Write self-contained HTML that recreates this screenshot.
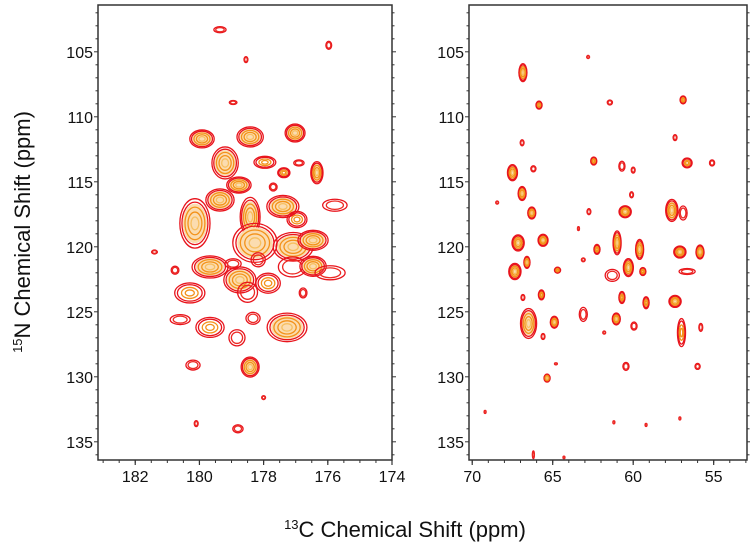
<!DOCTYPE html>
<html><head><meta charset="utf-8">
<style>
html,body{margin:0;padding:0;background:#fff;}
svg{display:block;font-family:"Liberation Sans",Arial,sans-serif;}
</style></head>
<body>
<svg id="chart" width="750" height="549" viewBox="0 0 750 549" xmlns="http://www.w3.org/2000/svg">
<g id="left-panel"></g>
<g id="right-panel"></g>
<text transform="translate(30,232) rotate(-90)" text-anchor="middle" font-size="22" fill="#111"><tspan font-size="13" dy="-8">15</tspan><tspan dy="8">N Chemical Shift  (ppm)</tspan></text>
<text x="405" y="537" text-anchor="middle" font-size="22" fill="#111"><tspan font-size="13" dy="-8">13</tspan><tspan dy="8">C  Chemical Shift (ppm)</tspan></text>
</svg>
<script>
// ---- Left panel peaks (13C ppm, 15N ppm, widths in ppm, strength level) ----
const leftC  = [179.92,178.42,177.02,179.2,177.96,176.9,177.37,176.34,177.7,178.77,175.78,179.36,177.4,180.14,178.42,178.27,177.08,176.46,176.96,179.67,178.95,178.17,177.1,176.46,178.74,177.86,178.5,180.3,180.6,179.67,178.83,177.27,178.33,176.77,175.93,181.4,180.76,180.2,178.42,178.0,180.1,178.8,179.36,178.55,175.97,178.95];
const leftN  = [111.7,111.55,111.25,113.55,113.5,113.55,114.3,114.3,115.4,115.25,116.8,116.4,116.9,118.2,117.7,119.7,120.0,119.5,117.9,121.55,121.3,121.0,121.55,121.5,122.55,122.8,123.5,123.55,125.6,126.2,127.0,126.2,125.5,123.55,122.0,120.4,121.8,129.1,129.25,131.6,133.6,134.0,103.3,105.6,104.5,108.9];
const leftWC = [.38,.41,.31,.41,.34,.16,.19,.19,.12,.38,.38,.44,.5,.47,.31,.69,.62,.47,.31,.56,.25,.22,.44,.41,.5,.38,.31,.47,.31,.44,.25,.62,.22,.12,.47,.09,.12,.22,.28,.06,.06,.16,.19,.06,.09,.12];
const leftWN = [.69,.77,.69,1.23,.46,.23,.38,.85,.31,.62,.46,.85,.85,1.9,1.5,1.5,1.1,.77,.62,.85,.38,.54,.77,.77,1.0,.77,.77,.77,.38,.77,.62,1.1,.46,.38,.54,.15,.31,.38,.77,.15,.23,.31,.23,.23,.31,.15];
const leftS  = [3,3,3,3,2,1,2,3,1,3,1,3,3,3,3,3,3,3,2,3,1,1,1,3,3,2,1,2,1,2,1,3,1,1,1,1,1,1,3,1,1,1,1,1,1,1];
// ---- Right panel peaks ----
const rightC  = [66.85,62.8,65.85,61.45,56.9,66.9,57.4,62.45,60.7,60.0,56.65,55.1,67.5,66.2,66.9,68.45,66.3,62.75,60.5,60.1,57.6,56.9,67.15,65.6,63.4,62.25,61.0,60.3,59.6,59.4,61.3,57.1,55.85,56.65,64.7,63.1,67.35,66.6,66.85,65.7,60.7,59.2,57.4,66.5,64.9,63.1,61.05,59.95,61.8,65.6,57.0,55.8,64.8,60.45,56.0,65.35,69.2,61.2,57.1,59.2,66.2,64.3];
const rightN  = [106.6,105.4,109.1,108.9,108.7,112.0,111.6,113.4,113.8,114.1,113.55,113.55,114.3,114.0,115.9,116.6,117.4,117.3,117.3,116.0,117.2,117.4,119.7,119.5,118.6,120.2,119.7,121.6,120.2,121.9,122.2,120.4,120.4,121.9,121.8,121.0,121.9,121.2,123.9,123.7,123.9,124.3,124.2,125.9,125.8,125.2,125.55,126.1,126.6,126.9,126.6,126.2,129.0,129.2,129.2,130.1,132.7,133.5,133.2,133.7,136.0,136.2];
const rightWC = [.25,.09,.19,.16,.19,.12,.12,.19,.19,.12,.31,.16,.31,.16,.25,.09,.25,.12,.38,.12,.38,.25,.38,.31,.06,.19,.25,.31,.25,.19,.44,.38,.25,.5,.19,.12,.38,.19,.12,.19,.19,.19,.38,.5,.25,.25,.25,.19,.09,.12,.25,.12,.09,.19,.16,.19,.06,.06,.06,.06,.06,.06];
const rightWN = [.69,.12,.31,.19,.31,.23,.23,.31,.38,.23,.38,.23,.62,.23,.54,.12,.46,.23,.46,.23,.85,.54,.62,.46,.15,.38,.92,.69,.77,.31,.46,.46,.54,.23,.23,.15,.62,.46,.23,.38,.46,.46,.46,1.15,.46,.54,.46,.31,.12,.23,1.08,.31,.08,.31,.23,.31,.12,.12,.12,.12,.3,.1];
const rightS  = [3,1,2,1,2,1,1,2,1,1,2,1,3,1,3,1,3,1,3,1,3,1,3,3,1,2,3,3,3,2,1,3,3,1,2,1,3,3,1,2,2,2,3,3,3,1,3,1,1,1,2,1,1,1,1,3,1,1,1,1,1,1];
// ---- tick label arrays ----
const leftXTicks  = [182,180,178,176,174];
const rightXTicks = [70,65,60,55];
const yTicks      = [105,110,115,120,125,130,135];

const NS='http://www.w3.org/2000/svg';
function mk(tag,attrs,parent){const e=document.createElementNS(NS,tag);for(const k in attrs)e.setAttribute(k,attrs[k]);parent.appendChild(e);return e;}
const yTop=5,yBot=460;
function yScale(v){return yTop+(v-101.4)*13;}
const L={x0:98,x1:392,c0:183.16,c1:174.0};
const R={x0:469,x1:747,c0:70.2,c1:52.93};
function xs(P,v){return P.x0+(P.c0-v)/(P.c0-P.c1)*(P.x1-P.x0);}
const levels={3:[[1,'#e8141c'],[0.86,'#e8141c'],[0.66,'#f3921a'],[0.46,'#f3921a'],[0.26,'#f7bf60']],
              2:[[1,'#e8141c'],[0.82,'#e8141c'],[0.55,'#f3921a'],[0.3,'#f3921a']],
              1:[[1,'#e8141c'],[0.7,'#ec2a24']]};
function drawPanel(P,g,cs,ns,wc,wn,ss,xticks,minorStep,name){
  const clipId='clip-'+name;
  const defs=mk('defs',{},g);
  const cp=mk('clipPath',{id:clipId},defs);
  mk('rect',{x:P.x0,y:yTop,width:P.x1-P.x0,height:yBot-yTop},cp);
  const peaks=mk('g',{'clip-path':'url(#'+clipId+')'},g);
  
  
  const pxPerC=(P.x1-P.x0)/(P.c0-P.c1);
  for(let i=0;i<cs.length;i++){
    const cx=xs(P,cs[i]),cy=yScale(ns[i]);
    const rx=Math.max(1,wc[i]*pxPerC),ry=Math.max(1,wn[i]*13);
    const pg=mk('g',{},peaks);
    
    
    const lv=levels[ss[i]];
    if(ss[i]===3){mk('ellipse',{cx:cx,cy:cy,rx:rx*0.8,ry:ry*0.8,fill:'#fbdcb0',stroke:'none'},pg);}
    lv.forEach(([f,c])=>{
      mk('ellipse',{cx:cx,cy:cy,rx:Math.max(0.8,rx*f),ry:Math.max(0.8,ry*f),fill:'none',stroke:c,'stroke-width':1.3},pg);
    });
  }
  // frame
  const fr=mk('rect',{x:P.x0,y:yTop,width:P.x1-P.x0,height:yBot-yTop,fill:'none',stroke:'#333','stroke-width':1.5},g);
  
  
  // x minor ticks
  const lo=Math.min(P.c0,P.c1),hi=Math.max(P.c0,P.c1);
  for(let v=Math.ceil(lo/minorStep)*minorStep;v<=hi+1e-6;v+=minorStep){
    const x=xs(P,v);
    mk('line',{x1:x,x2:x,y1:yBot,y2:yBot+3,stroke:'#333','stroke-width':1},g);
  }
  xticks.forEach(t=>{
    const x=xs(P,t);
    mk('line',{x1:x,x2:x,y1:yBot,y2:yBot+5,stroke:'#333','stroke-width':1.2},g);
    const tx=mk('text',{x:x,y:yBot+22,'text-anchor':'middle','font-size':16,fill:'#111'},g);
    tx.textContent=t;
    
    
  });
  // y ticks
  for(let v=102;v<=136;v++){
    const y=yScale(v);
    const major=v%5===0;
    mk('line',{x1:P.x0-(major?4:2.5),x2:P.x0,y1:y,y2:y,stroke:'#333','stroke-width':1},g);
    mk('line',{x1:P.x1,x2:P.x1+(major?4:2.5),y1:y,y2:y,stroke:'#333','stroke-width':1},g);
  }
  yTicks.forEach(t=>{
    const tx=mk('text',{x:P.x0-5,y:yScale(t)+6,'text-anchor':'end','font-size':16,fill:'#111'},g);
    tx.textContent=t;
    
    
  });
}
drawPanel(L,document.getElementById('left-panel'),leftC,leftN,leftWC,leftWN,leftS,leftXTicks,0.5,'left-panel');
drawPanel(R,document.getElementById('right-panel'),rightC,rightN,rightWC,rightWN,rightS,rightXTicks,1,'right-panel');
</script>
</body></html>
